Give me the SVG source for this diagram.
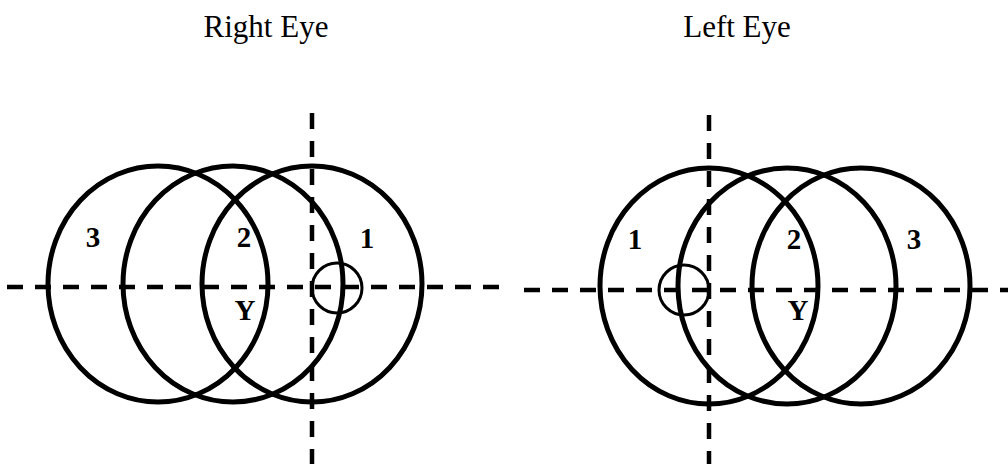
<svg xmlns="http://www.w3.org/2000/svg" width="1008" height="464" viewBox="0 0 1008 464">
<style>
.title{font-family:"Liberation Serif",serif;font-size:31px;fill:#000;text-anchor:middle}
.lbl{font-family:"Liberation Serif",serif;font-size:29px;font-weight:bold;fill:#000;text-anchor:middle}
.big{fill:none;stroke:#000;stroke-width:5}
.small{fill:none;stroke:#000;stroke-width:3}
.dash{stroke:#000;stroke-width:4.5;stroke-dasharray:16 12;fill:none}
</style>
<rect width="1008" height="464" fill="#fff"/>
<text class="title" x="266" y="37">Right Eye</text>
<text class="title" x="737" y="37">Left Eye</text>
<g id="connectors">
<line class="dash" x1="7" y1="287" x2="504" y2="287"/>
<line class="dash" x1="312" y1="113" x2="312" y2="464"/>
<line class="dash" x1="524" y1="290" x2="1008" y2="290"/>
<line class="dash" x1="709" y1="115" x2="709" y2="464"/>
</g>
<g id="right-eye">
<g id="r-field3"><ellipse class="big" cx="158" cy="284" rx="110" ry="118"/><text class="lbl" x="93" y="247">3</text></g>
<g id="r-field2"><ellipse class="big" cx="233" cy="284" rx="110" ry="118"/><text class="lbl" x="244" y="247">2</text></g>
<g id="r-field1"><ellipse class="big" cx="312" cy="284" rx="110" ry="118"/><text class="lbl" x="367" y="248">1</text></g>
<g id="r-spot"><circle class="small" cx="337" cy="288" r="25"/></g>
<g id="r-y"><text class="lbl" x="245" y="320">Y</text></g>
</g>
<g id="left-eye">
<g id="l-field1"><ellipse class="big" cx="709" cy="286" rx="109" ry="118"/><text class="lbl" x="635" y="249">1</text></g>
<g id="l-field2"><ellipse class="big" cx="787" cy="286" rx="109" ry="118"/><text class="lbl" x="794" y="249">2</text></g>
<g id="l-field3"><ellipse class="big" cx="861" cy="286" rx="109" ry="118"/><text class="lbl" x="914" y="249">3</text></g>
<g id="l-spot"><circle class="small" cx="684" cy="290" r="25"/></g>
<g id="l-y"><text class="lbl" x="798" y="320">Y</text></g>
</g>
</svg>
